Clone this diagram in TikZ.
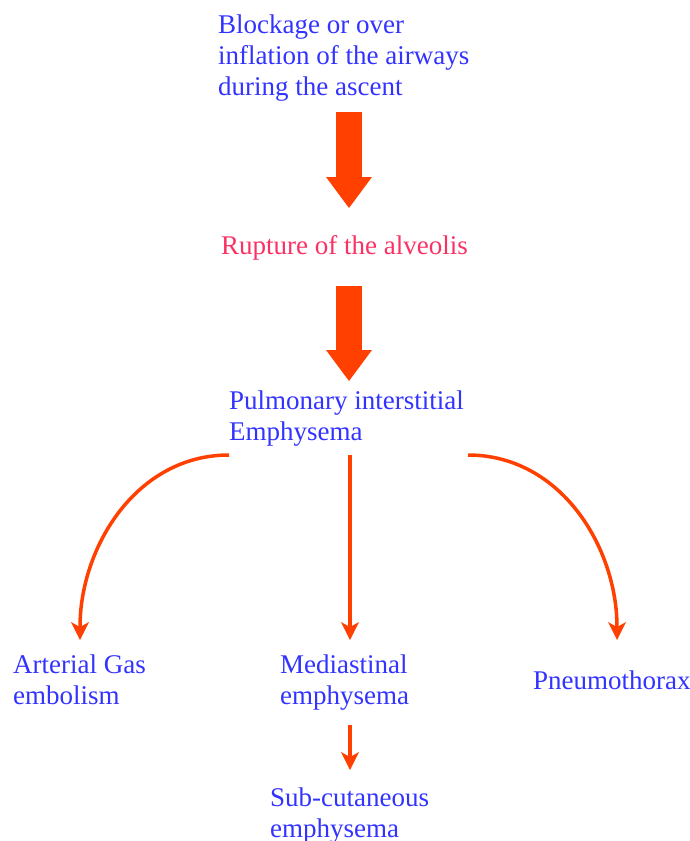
\documentclass[tikz,border=0pt]{standalone}
\usepackage{fontspec}
\setmainfont{Liberation Serif}
\usetikzlibrary{arrows.meta}
\definecolor{txtblue}{RGB}{51,51,255}
\definecolor{txtred}{RGB}{250,50,100}
\definecolor{arrcol}{RGB}{255,64,0}
\begin{document}
\begin{tikzpicture}[x=1pt,y=-1pt,
  lbl/.style={inner sep=0pt, align=left, font=\fontsize{27}{31}\selectfont, text=txtblue, anchor=base west},
  bigarrow/.style={draw=arrcol, line width=26pt, -{Triangle[length=31pt,width=46pt,line width=0pt]}},
  thinarrow/.style={draw=arrcol, line width=3.5pt, -{Stealth[length=18pt,width=18pt,inset=5pt,line width=0pt]}}]
\useasboundingbox (0,0) rectangle (690,841);
\node[lbl] (blk) at (218,95) {Blockage or over\\inflation of the airways\\during the ascent};
\node[lbl, text=txtred] (rup) at (221,254) {Rupture of the alveolis};
\node[lbl] (pie) at (229,440) {Pulmonary interstitial\\Emphysema};
\node[lbl] (age) at (13,704) {Arterial Gas\\embolism};
\node[lbl] (med) at (280,704) {Mediastinal\\emphysema};
\node[lbl] (pnx) at (533,689) {Pneumothorax};
\node[lbl] (sub) at (270,837) {Sub-cutaneous\\emphysema};
\coordinate (a1s) at (349,112);
\coordinate (a1e) at (349,208);
\coordinate (a2s) at (349,286);
\coordinate (a2e) at (349,381);
\coordinate (cl) at (229,455);
\coordinate (cm) at (350,455);
\coordinate (cr) at (468,455);
\coordinate (el) at (80,640);
\coordinate (em) at (350,640);
\coordinate (er) at (617,640);
\coordinate (ss) at (350,725);
\coordinate (se) at (350,770);
\draw[bigarrow] (a1s) -- (a1e);
\draw[bigarrow] (a2s) -- (a2e);
\draw[thinarrow] (cl) to[out=180,in=90] (el);
\draw[thinarrow] (cm) -- (em);
\draw[thinarrow] (cr) to[out=0,in=90] (er);
\draw[thinarrow] (ss) -- (se);
\end{tikzpicture}
\end{document}
